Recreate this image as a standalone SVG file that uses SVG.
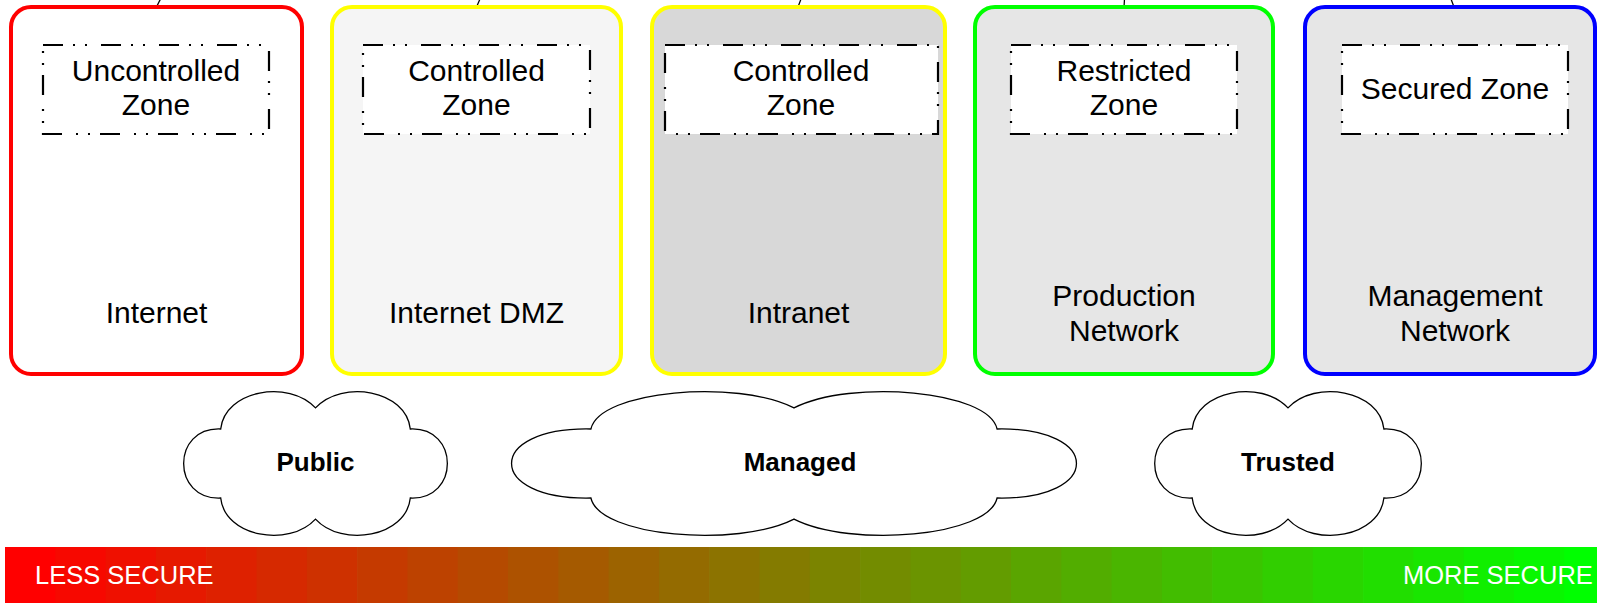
<svg xmlns="http://www.w3.org/2000/svg" width="1597" height="603" viewBox="0 0 1597 603">
  <style>
    .net { stroke-width: 4; }
    .zone { fill: #ffffff; stroke: #000000; stroke-width: 2.2; stroke-dasharray: 20 10 2 10 2 14; }
    .lbl { font-family: "Liberation Sans", Arial, sans-serif; font-size: 30px; fill: #000000; text-anchor: middle; }
    .cloud { fill: #ffffff; stroke: #000000; stroke-width: 1.3; }
    .ctext { font-family: "Liberation Sans", Arial, sans-serif; font-size: 26px; font-weight: bold; fill: #000000; text-anchor: middle; }
    .bar { font-family: "Liberation Sans", Arial, sans-serif; font-size: 25.5px; fill: #ffffff; }
    .link { stroke: #000000; stroke-width: 1.3; fill: none; }
  </style>

  <!-- links leaving the top edge -->
  <g id="connectors">
    <line class="link" x1="156.5" y1="7" x2="160.5" y2="-1"/>
    <line class="link" x1="476.5" y1="7" x2="480" y2="-1"/>
    <line class="link" x1="798" y1="7" x2="801" y2="-1"/>
    <line class="link" x1="1124" y1="7" x2="1124.5" y2="-1"/>
    <line class="link" x1="1454" y1="7" x2="1451" y2="-1"/>
  </g>

  <g id="internet">
    <rect class="net" x="11" y="7" width="291" height="367" rx="20" fill="#ffffff" stroke="#ff0000"/>
    <rect class="zone" x="43" y="45" width="226" height="89"/>
    <text class="lbl" x="156" y="81">Uncontrolled</text>
    <text class="lbl" x="156" y="115">Zone</text>
    <text class="lbl" x="156.5" y="323">Internet</text>
  </g>

  <g id="internet-dmz">
    <rect class="net" x="332" y="7" width="289" height="367" rx="20" fill="#f5f5f5" stroke="#ffff00"/>
    <rect class="zone" x="363" y="45" width="227" height="89"/>
    <text class="lbl" x="476.5" y="81">Controlled</text>
    <text class="lbl" x="476.5" y="115">Zone</text>
    <text class="lbl" x="476.5" y="323">Internet DMZ</text>
  </g>

  <g id="intranet">
    <rect class="net" x="652" y="7" width="293" height="367" rx="20" fill="#d8d8d8" stroke="#ffff00"/>
    <rect class="zone" x="665" y="45" width="273" height="89"/>
    <text class="lbl" x="801" y="81">Controlled</text>
    <text class="lbl" x="801" y="115">Zone</text>
    <text class="lbl" x="798.5" y="323">Intranet</text>
  </g>

  <g id="production-network">
    <rect class="net" x="975" y="7" width="298" height="367" rx="20" fill="#e6e6e6" stroke="#00ff00"/>
    <rect class="zone" x="1011" y="45" width="226" height="89"/>
    <text class="lbl" x="1124" y="81">Restricted</text>
    <text class="lbl" x="1124" y="115">Zone</text>
    <text class="lbl" x="1124" y="306">Production</text>
    <text class="lbl" x="1124" y="341">Network</text>
  </g>

  <g id="management-network">
    <rect class="net" x="1305" y="7" width="290" height="367" rx="20" fill="#e6e6e6" stroke="#0000ff"/>
    <rect class="zone" x="1342" y="45" width="226" height="89"/>
    <text class="lbl" x="1455" y="99">Secured Zone</text>
    <text class="lbl" x="1455" y="306">Management</text>
    <text class="lbl" x="1455" y="341">Network</text>
  </g>

  <g id="public">
    <path class="cloud" d="M220.7,429 C224.7,390.2 288.8,378.9 315.5,407.9 C342.2,378.9 406.3,390.2 410.3,429 C459.7,426.8 459.7,500.2 410.3,498 C406.3,536.8 342.2,548.1 315.5,519.1 C288.8,548.1 224.7,536.8 220.7,498 C171.3,500.2 171.3,426.8 220.7,429 Z"/>
    <text class="ctext" x="315.5" y="471">Public</text>
  </g>

  <g id="managed">
    <path class="cloud" d="M590.9,429 C599.5,390.2 736.8,378.9 794,407.9 C851.2,378.9 988.5,390.2 997.1,429 C1102.9,426.8 1102.9,500.2 997.1,498 C988.5,536.8 851.2,548.1 794,519.1 C736.8,548.1 599.5,536.8 590.9,498 C485.1,500.2 485.1,426.8 590.9,429 Z"/>
    <text class="ctext" x="800" y="471">Managed</text>
  </g>

  <g id="trusted">
    <path class="cloud" d="M1192.2,429 C1196.2,390.2 1261,378.9 1288,407.9 C1315,378.9 1379.8,390.2 1383.9,429 C1433.8,426.8 1433.8,500.2 1383.9,498 C1379.8,536.8 1315,548.1 1288,519.1 C1261,548.1 1196.2,536.8 1192.2,498 C1142.2,500.2 1142.2,426.8 1192.2,429 Z"/>
    <text class="ctext" x="1288" y="471">Trusted</text>
  </g>

  <!-- security scale: stepped red to green bands -->
  <g id="security-scale">
    <rect x="5" y="547" width="51" height="57" fill="#ff0000"/>
    <rect x="55.3" y="547" width="51" height="57" fill="#f70800"/>
    <rect x="105.6" y="547" width="51" height="57" fill="#ef1000"/>
    <rect x="155.9" y="547" width="51" height="57" fill="#e61900"/>
    <rect x="206.2" y="547" width="51" height="57" fill="#de2100"/>
    <rect x="256.5" y="547" width="51" height="57" fill="#d62900"/>
    <rect x="306.8" y="547" width="51" height="57" fill="#ce3100"/>
    <rect x="357.1" y="547" width="51" height="57" fill="#c53a00"/>
    <rect x="407.4" y="547" width="51" height="57" fill="#bd4200"/>
    <rect x="457.7" y="547" width="51" height="57" fill="#b54a00"/>
    <rect x="508" y="547" width="51" height="57" fill="#ad5200"/>
    <rect x="558.3" y="547" width="51" height="57" fill="#a55a00"/>
    <rect x="608.6" y="547" width="51" height="57" fill="#9c6300"/>
    <rect x="658.9" y="547" width="51" height="57" fill="#946b00"/>
    <rect x="709.2" y="547" width="51" height="57" fill="#8c7300"/>
    <rect x="759.5" y="547" width="51" height="57" fill="#847b00"/>
    <rect x="809.8" y="547" width="51" height="57" fill="#7b8400"/>
    <rect x="860.1" y="547" width="51" height="57" fill="#738c00"/>
    <rect x="910.4" y="547" width="51" height="57" fill="#6b9400"/>
    <rect x="960.7" y="547" width="51" height="57" fill="#639c00"/>
    <rect x="1011" y="547" width="51" height="57" fill="#5aa500"/>
    <rect x="1061.3" y="547" width="51" height="57" fill="#52ad00"/>
    <rect x="1111.6" y="547" width="51" height="57" fill="#4ab500"/>
    <rect x="1161.9" y="547" width="51" height="57" fill="#42bd00"/>
    <rect x="1212.2" y="547" width="51" height="57" fill="#3ac500"/>
    <rect x="1262.5" y="547" width="51" height="57" fill="#31ce00"/>
    <rect x="1312.8" y="547" width="51" height="57" fill="#29d600"/>
    <rect x="1363.1" y="547" width="51" height="57" fill="#21de00"/>
    <rect x="1413.4" y="547" width="51" height="57" fill="#19e600"/>
    <rect x="1463.7" y="547" width="51" height="57" fill="#10ef00"/>
    <rect x="1514" y="547" width="51" height="57" fill="#08f700"/>
    <rect x="1564.3" y="547" width="40" height="57" fill="#00ff00"/>
    <text class="bar" x="35" y="584">LESS SECURE</text>
    <text class="bar" x="1403" y="584">MORE SECURE</text>
  </g>
</svg>
